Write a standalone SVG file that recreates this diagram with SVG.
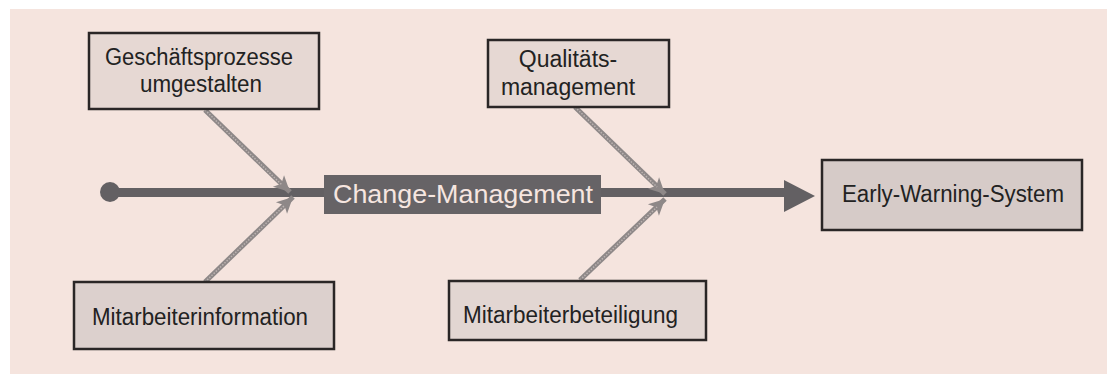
<svg xmlns="http://www.w3.org/2000/svg" width="1109" height="374" viewBox="0 0 1109 374">
<style>
.box{fill:#e2d5d1;stroke:#2a2626;stroke-width:2.5}
.lbl{font-family:"Liberation Sans",Arial,sans-serif;font-size:23px;fill:#222}
.br{stroke:#8e8888;stroke-width:5;fill:none}
.brin{stroke:#bcb3b1;stroke-width:1.5;stroke-dasharray:1.5 1.5;fill:none}
</style>
<defs>
<marker id="ah" markerUnits="userSpaceOnUse" markerWidth="20" markerHeight="20" viewBox="0 0 20 20" refX="18" refY="10" orient="auto">
<path d="M2,2 L18,10 L2,18 L6,10 Z" fill="#8e8888"/>
</marker>
</defs>
<rect x="10" y="9" width="1097" height="365" fill="#f5e4de"/>
<g id="connectors">
<line x1="110" y1="192.5" x2="790" y2="192.5" stroke="#636063" stroke-width="9"/>
<circle cx="110" cy="192" r="10" fill="#636063"/>
<path d="M784,180 L815,196 L784,212 Z" fill="#636063"/>
<line class="br" x1="205" y1="110" x2="290" y2="192" marker-end="url(#ah)"/>
<line class="brin" x1="205" y1="110" x2="282" y2="185"/>
<line class="br" x1="205" y1="282" x2="293" y2="197" marker-end="url(#ah)"/>
<line class="brin" x1="205" y1="282" x2="285" y2="205"/>
<line class="br" x1="575" y1="107" x2="665" y2="194" marker-end="url(#ah)"/>
<line class="brin" x1="575" y1="107" x2="657" y2="187"/>
<line class="br" x1="580" y1="280" x2="665" y2="199" marker-end="url(#ah)"/>
<line class="brin" x1="580" y1="280" x2="657" y2="207"/>
</g>
<g id="change">
<rect x="324" y="175" width="277" height="39" fill="#666366"/>
<text x="333" y="203" textLength="260" lengthAdjust="spacingAndGlyphs" font-family="Liberation Sans, Arial, sans-serif" font-size="26" fill="#f6e6e0">Change-Management</text>
</g>
<g id="gesch">
<rect class="box" x="89" y="33" width="230" height="76" style="fill:#e6d8d3"/>
<text class="lbl" x="105" y="65" textLength="188" lengthAdjust="spacingAndGlyphs">Geschäftsprozesse</text>
<text class="lbl" x="140" y="92" textLength="122" lengthAdjust="spacingAndGlyphs">umgestalten</text>
</g>
<g id="qual">
<rect class="box" x="488" y="40" width="181" height="67" style="fill:#e6d8d3"/>
<text class="lbl" x="568" y="67" text-anchor="middle">Qualitäts-</text>
<text class="lbl" x="568" y="95" text-anchor="middle">management</text>
</g>
<g id="mainfo">
<rect class="box" x="74" y="282" width="260" height="67" style="fill:#dcd0cd"/>
<text class="lbl" x="92" y="325" textLength="216" lengthAdjust="spacingAndGlyphs">Mitarbeiterinformation</text>
</g>
<g id="mabet">
<rect class="box" x="449" y="281" width="257" height="59" style="fill:#e2d6d2"/>
<text class="lbl" x="463" y="323" textLength="215" lengthAdjust="spacingAndGlyphs">Mitarbeiterbeteiligung</text>
</g>
<g id="ews">
<rect class="box" x="822" y="160" width="260" height="70" style="fill:#d6cbc8"/>
<text class="lbl" x="842" y="202" textLength="222" lengthAdjust="spacingAndGlyphs">Early-Warning-System</text>
</g>
</svg>
